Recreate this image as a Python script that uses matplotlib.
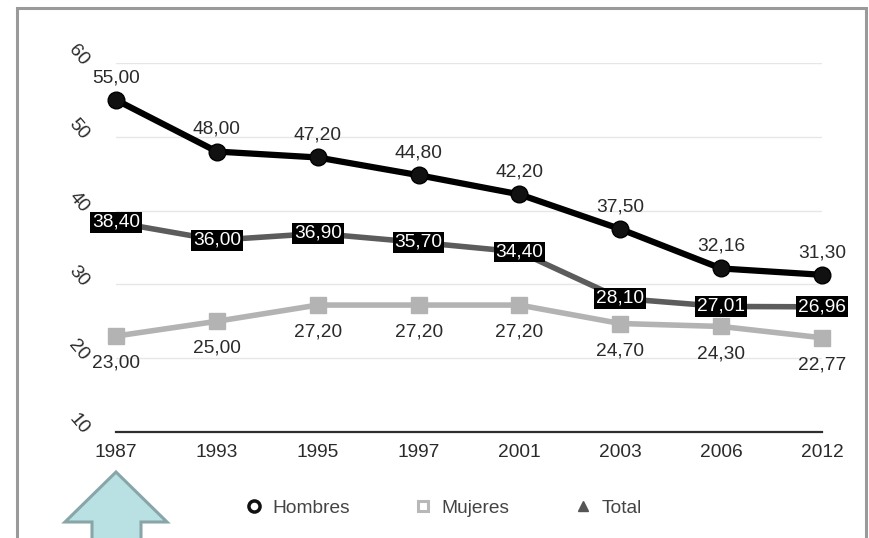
import matplotlib
matplotlib.use("Agg")
import matplotlib.pyplot as plt
from matplotlib.lines import Line2D
from matplotlib.patches import Polygon, Rectangle
from matplotlib.transforms import ScaledTranslation

plt.rcParams['font.family'] = ['Liberation Sans', 'DejaVu Sans']

years = ['1987', '1993', '1995', '1997', '2001', '2003', '2006', '2012']
hombres = [55.00, 48.00, 47.20, 44.80, 42.20, 37.50, 32.16, 31.30]
mujeres = [23.00, 25.00, 27.20, 27.20, 27.20, 24.70, 24.30, 22.77]
total = [38.40, 36.00, 36.90, 35.70, 34.40, 28.10, 27.01, 26.96]
y_ticks = [10, 20, 30, 40, 50, 60]

W, H = 869, 538
FS = 13.8
fig = plt.figure(figsize=(W / 100, H / 100), dpi=100)


def fx(px):
    return px / W


def fy(py):
    return 1 - py / H


ax = fig.add_axes([fx(116), fy(432), fx(822) - fx(116), fy(63) - fy(432)])
x = list(range(len(years)))
ax.set_xlim(0, len(years) - 1)
ax.set_ylim(10, 60)

# grid and axes
ax.set_yticks(y_ticks)
ax.set_yticklabels([str(v) for v in y_ticks])
ax.yaxis.grid(True, color='#e6e6e6', linewidth=1.0, zorder=0)
ax.set_axisbelow(True)
for side in ['left', 'right', 'top']:
    ax.spines[side].set_visible(False)
ax.spines['bottom'].set_color('#2e2e2e')
ax.spines['bottom'].set_linewidth(1.6)
ax.set_xticks(x)
ax.set_xticklabels(years)
ax.tick_params(axis='x', length=0, pad=8.5, labelsize=FS, colors='#2a2a2a')
ax.tick_params(axis='y', length=0, pad=27, labelsize=FS, colors='#2a2a2a')
lift = ScaledTranslation(0, 8 / 100, fig.dpi_scale_trans)
for lab in ax.get_yticklabels():
    lab.set_rotation(-50)
    lab.set_horizontalalignment('center')
    lab.set_verticalalignment('center')
    lab.set_transform(lab.get_transform() + lift)

# series
ax.plot(x, mujeres, color='#b3b3b3', linewidth=4.0, marker='s', markersize=12,
        markerfacecolor='#b3b3b3', markeredgecolor='#b3b3b3', zorder=3, clip_on=False)
ax.plot(x, total, color='#5c5c5c', linewidth=4.0, marker='^', markersize=6,
        markerfacecolor='#444444', markeredgecolor='#444444', zorder=4, clip_on=False)
ax.plot(x, hombres, color='#000000', linewidth=4.5, marker='o', markersize=12,
        markerfacecolor='#111111', markeredgecolor='#000000', zorder=5, clip_on=False)


def fmt(v):
    return f"{v:.2f}".replace('.', ',')


for xi, v in zip(x, hombres):
    ax.annotate(fmt(v), (xi, v), xytext=(0, 16), textcoords='offset points',
                ha='center', va='center', fontsize=FS, color='#2a2a2a', zorder=6)
for xi, v in zip(x, mujeres):
    ax.annotate(fmt(v), (xi, v), xytext=(0, -19.5), textcoords='offset points',
                ha='center', va='center', fontsize=FS, color='#2a2a2a', zorder=6)
for xi, v in zip(x, total):
    ax.annotate(fmt(v), (xi, v), xytext=(0, 0), textcoords='offset points',
                ha='center', va='center', fontsize=FS, color='white', zorder=7,
                bbox=dict(boxstyle='square,pad=0.1', facecolor='black', edgecolor='none'))

# legend
handles = [
    Line2D([], [], linestyle='none', marker='o', markersize=8, markerfacecolor='white',
           markeredgecolor='#111111', markeredgewidth=2.5),
    Line2D([], [], linestyle='none', marker='s', markersize=7, markerfacecolor='white',
           markeredgecolor='#b8b8b8', markeredgewidth=2.2),
    Line2D([], [], linestyle='none', marker='^', markersize=7, markerfacecolor='#555555',
           markeredgecolor='#555555'),
]
leg = fig.legend(handles, ['Hombres', 'Mujeres', 'Total'], loc='center',
                 bbox_to_anchor=(fx(443), fy(508)), ncol=3, frameon=False,
                 fontsize=FS, handlelength=1.0, handletextpad=0.45, columnspacing=3.35)
for t in leg.get_texts():
    t.set_color('#444444')

# outer frame
fig.patches.append(Rectangle((fx(17), fy(560)), fx(866) - fx(17), fy(8) - fy(560),
                             transform=fig.transFigure, fill=False, edgecolor='#9a9a9a',
                             linewidth=2.2, clip_on=False))

# upward arrow under the first year
arrow_px = [(116, 472), (167, 522), (141, 522), (141, 545), (92, 545), (92, 522), (65, 522)]
fig.patches.append(Polygon([(fx(px), fy(py)) for px, py in arrow_px], closed=True,
                           transform=fig.transFigure, facecolor='#b9e0e3',
                           edgecolor='#88a6a8', linewidth=2.2, clip_on=False))

fig.savefig('out.png', dpi=100)
